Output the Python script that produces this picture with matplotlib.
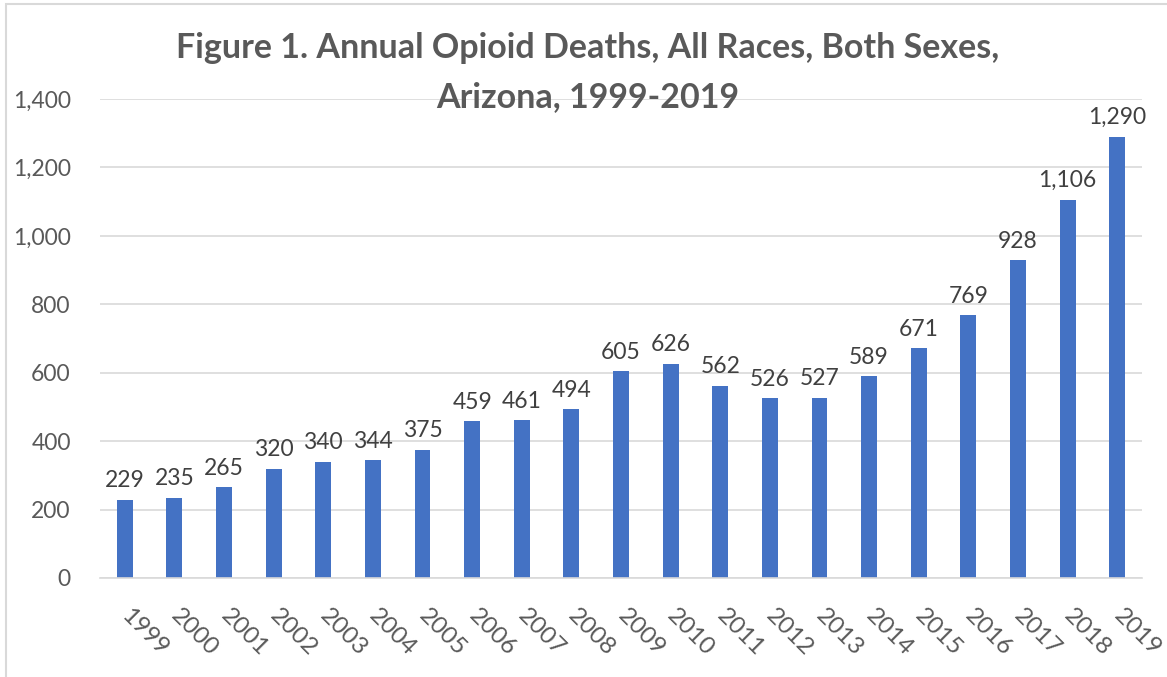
import matplotlib.pyplot as plt
import matplotlib.patches as patches
import matplotlib.ticker as ticker
import matplotlib.transforms as mtransforms

# ---------------------- Data ----------------------
years = ['1999', '2000', '2001', '2002', '2003', '2004', '2005', '2006', '2007', '2008',
         '2009', '2010', '2011', '2012', '2013', '2014', '2015', '2016', '2017', '2018', '2019']
deaths = [229, 235, 265, 320, 340, 344, 375, 459, 461, 494,
          605, 626, 562, 526, 527, 589, 671, 769, 928, 1106, 1290]

# ---------------------- Plot Settings ----------------------
plt.rcParams.update({
    'font.family': ['Lato', 'DejaVu Sans'],
    'font.size': 13,
})
text_gray = '#595959'
bar_color = '#4472C4'
grid_gray = '#D9D9D9'

fig = plt.figure(figsize=(11.67, 6.77), dpi=100)
ax = fig.add_axes([100 / 1167, 1 - 578 / 677, 1042 / 1167, 479 / 677])

x = list(range(len(years)))
bars = ax.bar(x, deaths, width=0.32, color=bar_color, zorder=3)

# data labels
for xi, val in zip(x, deaths):
    ax.annotate(f'{val:,}', (xi, val), xytext=(0, 6), textcoords='offset points',
                ha='center', va='bottom', fontsize=16.5, color='#404040', clip_on=False)

ax.set_xlim(-0.5, len(years) - 0.5)
ax.set_ylim(0, 1400)
ax.yaxis.set_major_locator(ticker.MultipleLocator(200))
ax.yaxis.set_major_formatter(ticker.FuncFormatter(lambda v, p: f'{int(v):,}'))
ax.grid(axis='y', color=grid_gray, linewidth=1.2, zorder=0)
ax.set_axisbelow(True)

for side in ['top', 'right', 'left']:
    ax.spines[side].set_visible(False)
ax.spines['bottom'].set_color(grid_gray)
ax.spines['bottom'].set_linewidth(1.2)
ax.spines['bottom'].set_zorder(4)

ax.tick_params(axis='y', length=0, pad=21, labelsize=16.5, labelcolor=text_gray)
ax.tick_params(axis='x', length=0, pad=8, labelsize=17.5, labelcolor=text_gray)
ax.set_xticks(x)
ax.set_xticklabels(years, rotation=-45, ha='left', va='center', rotation_mode='anchor')
offset = mtransforms.ScaledTranslation(0 / 100, -23 / 100, fig.dpi_scale_trans)
for lbl in ax.get_xticklabels():
    lbl.set_transform(lbl.get_transform() + offset)

fig.text(588 / 1167, 1 - 48 / 677, 'Figure 1. Annual Opioid Deaths, All Races, Both Sexes,',
         ha='center', va='center', fontsize=24.5, fontweight='bold', color=text_gray)
fig.text(588 / 1167, 1 - 97 / 677, 'Arizona, 1999-2019',
         ha='center', va='center', fontsize=24.5, fontweight='bold', color=text_gray)

# chart border
fig.patches.append(patches.Rectangle((6 / 1167, -0.1), 1.2, 1.1 - 4 / 677,
                                     transform=fig.transFigure, fill=False,
                                     edgecolor='#D9D9D9', linewidth=1.5))

plt.savefig('out.png', dpi=100)
plt.close()
